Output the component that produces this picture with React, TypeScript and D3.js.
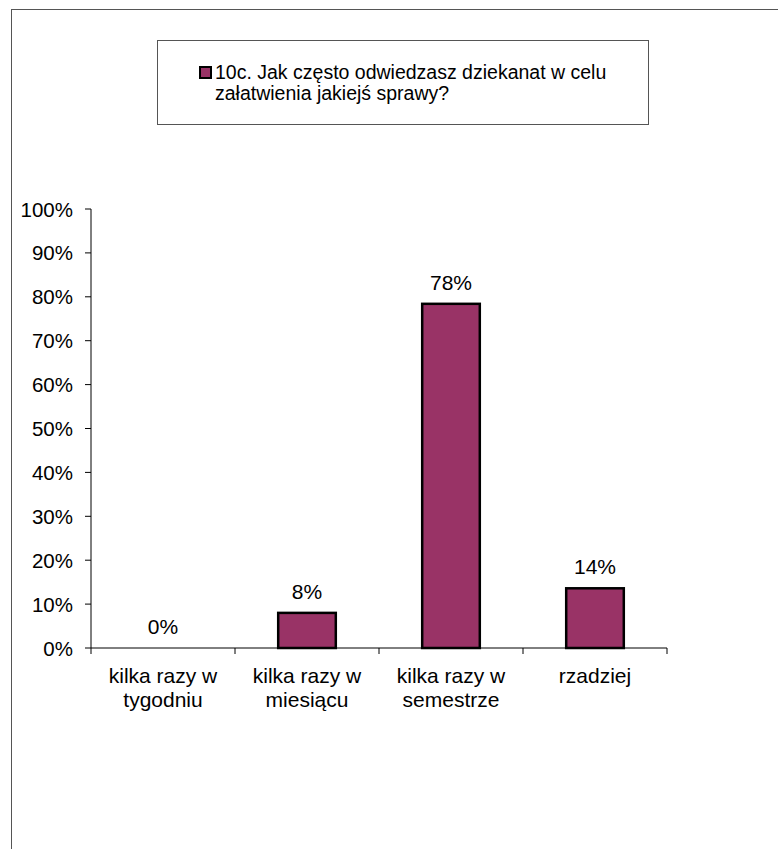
import React from "react";
import * as d3 from "d3";

const categories: string[][] = [
  ["kilka razy w", "tygodniu"],
  ["kilka razy w", "miesiącu"],
  ["kilka razy w", "semestrze"],
  ["rzadziej"],
];
const values: number[] = [0, 0.08, 0.784, 0.136];
const valueLabels: string[] = ["0%", "8%", "78%", "14%"];
const yTicks: number[] = [0, 0.1, 0.2, 0.3, 0.4, 0.5, 0.6, 0.7, 0.8, 0.9, 1.0];
const legendLines: string[] = [
  "10c. Jak często odwiedzasz dziekanat w celu",
  "załatwienia jakiejś sprawy?",
];

const W = 778;
const H = 849;
const FONT = "'Liberation Sans', Arial, sans-serif";
const FS_LEG = 19.5;
const FS_TICK = 20.5;
const FS_CAT = 21;

export default function App() {
  const x0 = 91, x1 = 667, yTop = 209, yBot = 648;
  const x = d3.scaleBand<number>().domain(d3.range(values.length)).range([x0, x1]).paddingInner(0.6).paddingOuter(0.3);
  const band = (x1 - x0) / values.length;
  const y = d3.scaleLinear().domain([0, 1]).range([yBot, yTop]);
  const fmt = d3.format(".0%");

  return (
    <svg width={W} height={H} style={{ position: "absolute", left: 0, top: 0 }} fontFamily={FONT}>
      <rect x={0} y={0} width={W} height={H} fill="#fff" />
      <rect x={11.5} y={9.5} width={W + 10} height={H + 10} fill="none" stroke="#555" strokeWidth={1} />
      {/* legend */}
      <rect x={157.5} y={40.5} width={491} height={84} fill="#fff" stroke="#555" strokeWidth={1} />
      <rect x={200} y={67} width={11} height={11} fill="#993366" stroke="#000" strokeWidth={2} />
      {legendLines.map((t, i) => (
        <text key={i} x={215} y={79 + i * 20.5} fontSize={FS_LEG} fill="#000">{t}</text>
      ))}
      {/* y axis */}
      <line x1={x0} x2={x0} y1={yTop} y2={yBot} stroke="#000" strokeWidth={1} />
      {yTicks.map((t) => (
        <g key={t}>
          <line x1={x0 - 6} x2={x0} y1={y(t)} y2={y(t)} stroke="#000" strokeWidth={1} />
          <text x={73} y={y(t) + 7.5} fontSize={FS_TICK} textAnchor="end" fill="#000">{fmt(t)}</text>
        </g>
      ))}
      {/* x axis */}
      <line x1={x0} x2={x1} y1={yBot} y2={yBot} stroke="#000" strokeWidth={1} />
      {d3.range(values.length + 1).map((i) => (
        <line key={i} x1={x0 + i * band} x2={x0 + i * band} y1={yBot} y2={yBot + 6} stroke="#000" strokeWidth={1} />
      ))}
      {/* bars */}
      {values.map((v, i) => (
        v > 0 ? (
          <rect key={i} x={x(i)!} y={y(v)} width={x.bandwidth()} height={yBot - y(v)} fill="#993366" stroke="#000" strokeWidth={2.5} />
        ) : null
      ))}
      {values.map((v, i) => (
        <text key={i} x={x(i)! + x.bandwidth() / 2} y={y(v) - 14} fontSize={FS_CAT} textAnchor="middle" fill="#000">{valueLabels[i]}</text>
      ))}
      {categories.map((lines, i) => (
        <text key={i} x={x(i)! + x.bandwidth() / 2} fontSize={FS_CAT} textAnchor="middle" fill="#000">
          {lines.map((l, j) => (
            <tspan key={j} x={x(i)! + x.bandwidth() / 2} y={683 + j * 24}>{l}</tspan>
          ))}
        </text>
      ))}
    </svg>
  );
}
